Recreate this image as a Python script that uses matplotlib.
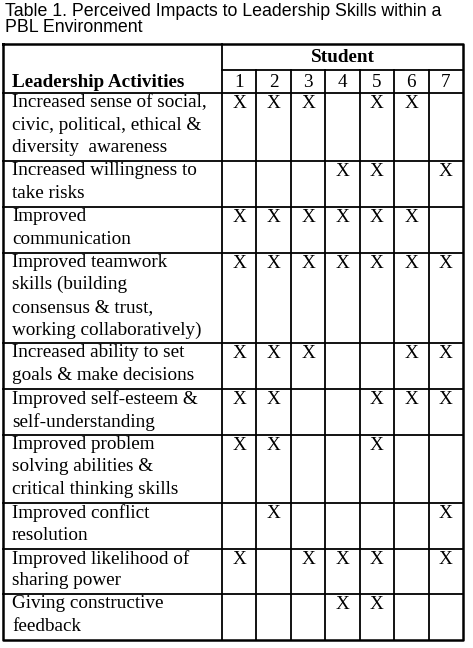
import matplotlib
matplotlib.use("Agg")
import matplotlib.pyplot as plt

title_lines = ["Table 1. Perceived Impacts to Leadership Skills within a", "PBL Environment"]
students = ["1", "2", "3", "4", "5", "6", "7"]
activities = [
    ["Increased sense of social,", "civic, political, ethical &", "diversity  awareness"],
    ["Increased willingness to", "take risks"],
    ["Improved", "communication"],
    ["Improved teamwork", "skills (building", "consensus & trust,", "working collaboratively)"],
    ["Increased ability to set", "goals & make decisions"],
    ["Improved self-esteem &", "self-understanding"],
    ["Improved problem", "solving abilities &", "critical thinking skills"],
    ["Improved conflict", "resolution"],
    ["Improved likelihood of", "sharing power"],
    ["Giving constructive", "feedback"],
]
marks = [
    [1, 2, 3, 5, 6],
    [4, 5, 7],
    [1, 2, 3, 4, 5, 6],
    [1, 2, 3, 4, 5, 6, 7],
    [1, 2, 3, 6, 7],
    [1, 2, 5, 6, 7],
    [1, 2, 5],
    [2, 7],
    [1, 3, 4, 5, 7],
    [4, 5],
]

W, H = 473, 648
fig = plt.figure(figsize=(W / 100, H / 100), dpi=100)
ax = fig.add_axes([0, 0, 1, 1])
ax.set_xlim(0, W); ax.set_ylim(H, 0); ax.axis("off")

serif = "Liberation Serif"
fs = 13.8
ax.text(5, 3, "\n".join(title_lines), family="Liberation Sans", fontsize=12.8,
        va="top", ha="left", linespacing=0.95)

x0, xl, x1 = 3, 222, 463
cw = (x1 - xl) / 7
top, h1, h2 = 44, 70, 93
lh = 22.6
ys = [h2]
for a in activities:
    ys.append(ys[-1] + len(a) * lh + 0.5)
scale = (640 - h2) / (ys[-1] - h2)
ys = [h2 + (y - h2) * scale for y in ys]

lw = 1.3
ax.plot([x0, x1, x1, x0, x0], [top, top, ys[-1], ys[-1], top], color="black", lw=1.8)
ax.plot([xl, xl], [top, ys[-1]], color="black", lw=lw)
ax.plot([xl, x1], [h1, h1], color="black", lw=lw)
for i in range(1, 7):
    ax.plot([xl + i * cw] * 2, [h1, ys[-1]], color="black", lw=lw)
for y in ys[:-1]:
    ax.plot([x0, x1], [y, y], color="black", lw=lw)

ax.text((xl + x1) / 2, (top + h1) / 2 + 1, "Student", family=serif, fontsize=fs,
        fontweight="bold", ha="center", va="center")
ax.text(12, (h1 + h2) / 2 + 1, "Leadership Activities", family=serif, fontsize=fs,
        fontweight="bold", ha="left", va="center")
for i, s in enumerate(students):
    ax.text(xl + (i + 0.5) * cw, (h1 + h2) / 2 + 1, s, family=serif, fontsize=fs,
            ha="center", va="center")

for r, (a, m) in enumerate(zip(activities, marks)):
    yt = ys[r]
    for k, line in enumerate(a):
        ax.text(12, yt + 1 + k * lh * scale, line, family=serif, fontsize=fs,
                ha="left", va="top")
    for s in m:
        ax.text(xl + (s - 0.5) * cw, yt + 2, "X", family=serif, fontsize=fs,
                ha="center", va="top")

fig.savefig("out.png", dpi=100, facecolor="white")
